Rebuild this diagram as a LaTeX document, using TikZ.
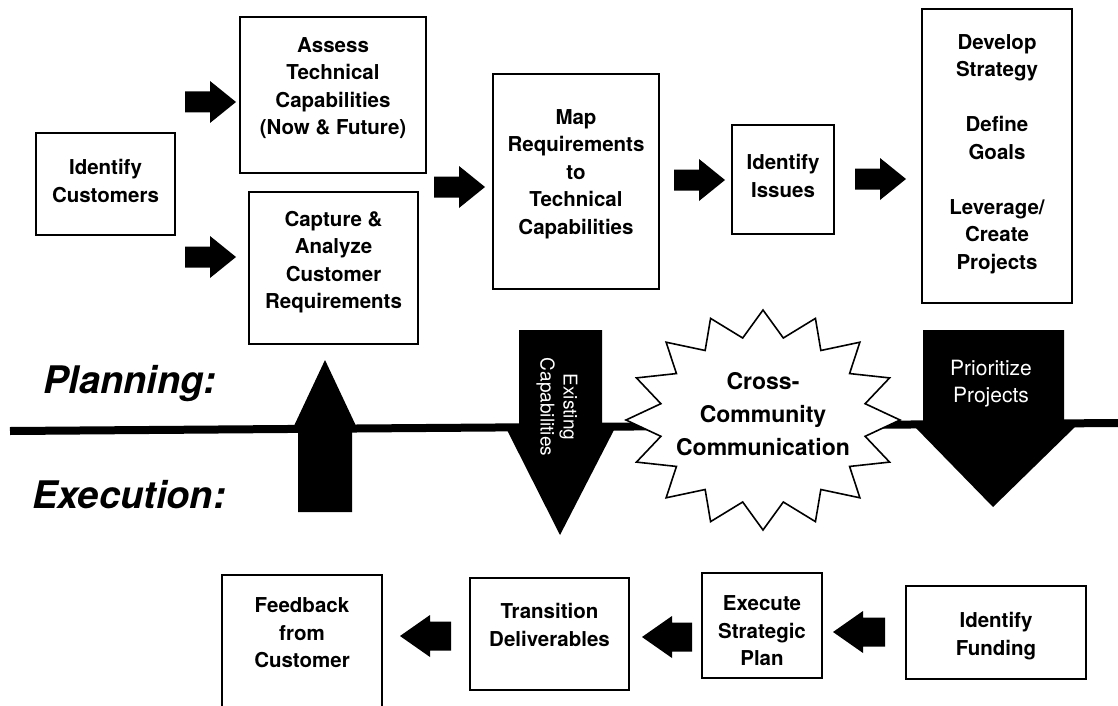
\documentclass[tikz,border=0pt]{standalone}
\usepackage{fontspec}
\setmainfont{TeX Gyre Heros}
\begin{document}
\begin{tikzpicture}[x=1pt,y=-1pt,
  box/.style={draw, line width=1.8pt, fill=white, inner sep=0pt},
  txt/.style={font=\fontsize{20.5}{27.5}\selectfont\bfseries, align=center, inner sep=0pt},
  wtxt/.style={font=\fontsize{21}{27}\selectfont, text=white, align=center, inner sep=0pt},
  phase/.style={font=\fontsize{38}{40}\selectfont\bfseries\itshape, anchor=base west, inner sep=0pt},
  blk/.style={fill=black}
]
\useasboundingbox (0,0) rectangle (1118,706);
\clip (0,0) rectangle (1118,706);

% right block arrow: tail x, tip x, y
\newcommand{\rblk}[3]{\fill (#1,#3-10.5) -- (#2-26,#3-10.5) -- (#2-26,#3-21) -- (#2,#3) -- (#2-26,#3+21) -- (#2-26,#3+10.5) -- (#1,#3+10.5) -- cycle;}
% left block arrow: tip x, tail x, y
\newcommand{\lblk}[3]{\fill (#2,#3-14.5) -- (#1+30,#3-14.5) -- (#1+30,#3-21) -- (#1,#3) -- (#1+30,#3+21) -- (#1+30,#3+14.5) -- (#2,#3+14.5) -- cycle;}

% dividing line
\coordinate (L0) at (10,431);
\coordinate (L1) at (1118,423);
\draw[line width=8pt] (L0) -- (L1);

% boxes (upper)
\node[box, minimum width=139pt, minimum height=102pt] (cust) at (105.5,184) {};
\node[txt] (custT) at (105.5,181) {Identify\\Customers};
\node[box, minimum width=186pt, minimum height=156pt] (assess) at (333,95) {};
\node[txt] (assessT) at (333,88) {Assess\\Technical\\Capabilities\\(Now \& Future)};
\node[box, minimum width=169pt, minimum height=152pt] (capt) at (333.5,268) {};
\node[txt] (captT) at (333.5,262) {Capture \&\\Analyze\\Customer\\Requirements};
\node[box, minimum width=166pt, minimum height=215pt] (map) at (576,181.5) {};
\node[txt] (mapT) at (576,174) {Map\\Requirements\\to\\Technical\\Capabilities};
\node[box, minimum width=102pt, minimum height=109pt] (iss) at (783,179.5) {};
\node[txt] (issT) at (783,176) {Identify\\Issues};
\node[box, minimum width=150pt, minimum height=294pt] (dev) at (997,156) {};
\node[txt] (devT) at (997,154) {Develop\\Strategy\\[27.5pt]Define\\Goals\\[27.5pt]Leverage/\\Create\\Projects};

% boxes (lower)
\node[box, minimum width=160pt, minimum height=140pt] (feed) at (302,645) {};
\node[txt] (feedT) at (302,633) {Feedback\\from\\Customer};
\node[box, minimum width=159pt, minimum height=112pt] (trans) at (549.5,634) {};
\node[txt] (transT) at (549.5,625) {Transition\\Deliverables};
\node[box, minimum width=120pt, minimum height=105pt] (exec) at (762,625.5) {};
\node[txt] (execT) at (762,631) {Execute\\Strategic\\Plan};
\node[box, minimum width=180pt, minimum height=93pt] (fund) at (996,632.5) {};
\node[txt] (fundT) at (996,636) {Identify\\Funding};

% block arrows between boxes
\rblk{185}{236}{102}
\rblk{185}{236}{257}
\rblk{434}{485}{187}
\rblk{674}{725}{180}
\rblk{855}{906}{179}
\lblk{400}{451}{636}
\lblk{642}{692}{637}
\lblk{833}{885}{632}

% big vertical arrows
\fill (298,512) -- (298,428) -- (293,428) -- (325,360) -- (357,428) -- (352,428) -- (352,512) -- cycle;
\fill (519,330) -- (602,330) -- (602,428) -- (615,428) -- (560,535) -- (506,428) -- (519,428) -- cycle;
\node[wtxt, font=\fontsize{19}{23}\selectfont, rotate=-90] (exist) at (557,407) {Existing\\Capabilities};
\fill (923,330) -- (1064,330) -- (1064,425) -- (1077,425) -- (993,507) -- (913,425) -- (923,425) -- cycle;
\node[wtxt] (prio) at (991,384) {Prioritize\\Projects};

% starburst
\draw[fill=white, line width=1.6pt, line join=miter]
  (763,310) \foreach \i in {1,...,31}{
    -- ({763+137*(0.88+0.12*cos(\i*180))*cos(90+\i*11.25)},
        {420-110*(0.88+0.12*cos(\i*180))*sin(90+\i*11.25)})
  } -- cycle;
\node[font=\fontsize{23}{33}\selectfont\bfseries, align=center, inner sep=0pt] (comm) at (763,414) {Cross-\\Community\\Communication};

% phase labels
\node[phase] (plan) at (43,393) {Planning:};
\node[phase] (exe) at (32,508) {Execution:};
\end{tikzpicture}
\end{document}
